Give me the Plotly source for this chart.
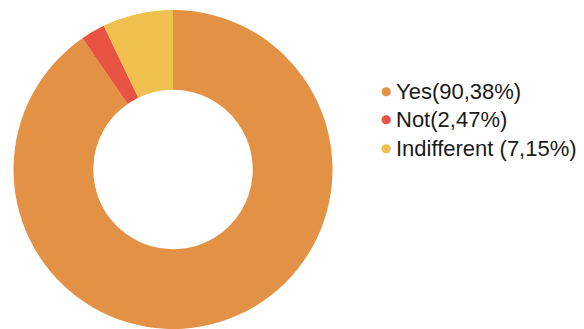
import plotly.graph_objects as go

# Survey answers and their shares (percent)
categories = ["Yes", "Not", "Indifferent"]
shares = [90.38, 2.47, 7.15]
legend_labels = ["Yes(90,38%)", "Not(2,47%)", "Indifferent (7,15%)"]
colors = ["#E39245", "#E95341", "#EFC04D"]

W, H = 584, 329
M_TOP = 10
plot_h = H - M_TOP

fig = go.Figure(
    go.Pie(
        labels=categories,
        values=shares,
        hole=0.5,
        sort=False,
        direction="clockwise",
        rotation=0,
        marker=dict(colors=colors, line=dict(width=0)),
        textinfo="none",
        hoverinfo="label+percent",
        showlegend=False,
        domain=dict(x=[(173 - 159.5) / W, (173 + 159.5) / W], y=[0, 1]),
    )
)

# Legend drawn as a column of colored dots with labels beside them
row_top, row_step = 91, 28.5
annotations = []
for i, (lab, col) in enumerate(zip(legend_labels, colors)):
    ypx = row_top + i * row_step
    yp = (H - ypx) / plot_h
    annotations.append(dict(
        x=386 / W, y=yp, xref="paper", yref="paper",
        text="●", showarrow=False, xanchor="center", yanchor="middle",
        font=dict(size=12, color=col, family="DejaVu Sans"),
    ))
    annotations.append(dict(
        x=394 / W, y=yp, xref="paper", yref="paper",
        text=lab, showarrow=False, xanchor="left", yanchor="middle",
        font=dict(size=22, color="#1a1a1a", family="Arial, Liberation Sans, sans-serif"),
    ))

fig.update_layout(
    width=W,
    height=H,
    margin=dict(l=0, r=0, t=M_TOP, b=0),
    paper_bgcolor="white",
    plot_bgcolor="white",
    annotations=annotations,
)

fig.write_html("out.html")
